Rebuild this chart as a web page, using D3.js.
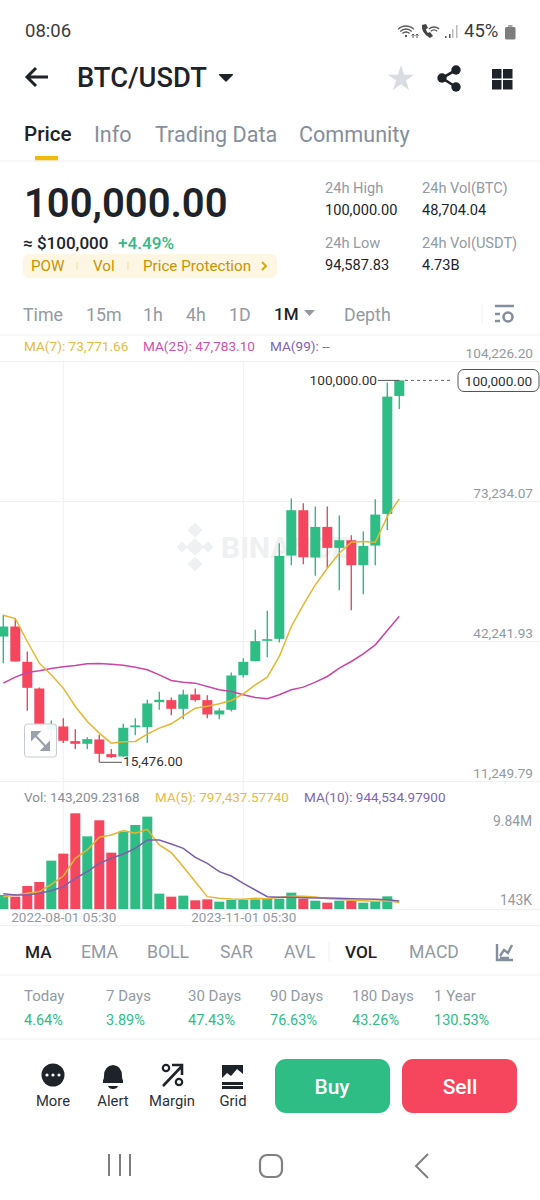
<!DOCTYPE html>
<html><head><meta charset="utf-8">
<script src="https://cdn.jsdelivr.net/npm/d3@7"></script>
<style>html,body{margin:0;padding:0;background:#fff}svg{display:block}text{font-family:Roboto,sans-serif}.domain{display:none}</style>
</head><body><svg id="c" width="540" height="1200" viewBox="0 0 540 1200"></svg>
<script>
// ---- chart data ----
const candleOpen=[43317,45530,37713,31814,22670,23408,20163,19573,20532,17287,16771,23260,23260,28791,29233,27316,30487,29233,26062,27095,34764,37861,42359,42801,61236,71265,60794,67578,62932,64628,59098,63448,70454,96558];
const candleClose=[45530,37787,31961,23408,23776,20237,19573,20605,17361,16624,23113,23629,28496,29307,27316,30487,29233,26062,26947,34690,37713,42285,42727,61162,71265,60868,67578,62932,64628,59098,63375,70306,96410,100000];
const candleHigh=[48110,47373,39999,32035,24735,25251,22818,21048,21564,18393,23998,25251,29307,31077,29822,31519,31814,30339,27463,35353,38524,44792,48995,63965,73846,72813,72076,72076,70085,65734,66545,73698,99507,100000];
const candleLow=[37418,37787,26874,23408,21195,19721,18393,18393,15476,16402,16624,21490,19721,27095,25915,25030,28938,25251,25030,26726,34247,37861,38746,41990,59098,59319,56738,58434,53567,49143,52682,59098,66914,93682];
const ma7=[48037,47299,42211,37418,34837,31888,27832,24514,21933,19721,20016,20089,21712,23039,23998,25767,27463,27906,28422,29159,30634,32625,34321,38893,45530,50323,54747,58434,61752,64186,64333,64186,69864,73772];
const ma25=[32994,34321,35353,35722,36238,36607,36902,37271,37344,37197,36976,36533,35943,34837,33584,33215,32994,32256,31519,31150,30413,29822,29528,30413,31519,32109,33215,34469,36312,37787,39483,41474,44645,47783];
const volume=[1562,1393,2475,2880,5043,5752,9841,7509,9131,5854,7982,8658,9503,1698,1393,1495,1022,1123,887,1056,1056,1123,1191,1191,1799,1191,988,785,988,988,785,887,1427,143.2];
const volMa5=[1393,1562,1731,1900,2644,3488,5279,6124,7408,7644,8084,7813,8219,6631,5854,4434,2914,1393,1224,1157,1123,1224,1191,1326,1427,1427,1360,1191,1123,1022,988,920,988,797];
const volMa10=[1698,1562,1562,1731,2002,2407,3252,3928,4772,5279,5718,6293,7138,7138,6732,6293,5381,4772,3928,3488,2745,2069,1393,1326,1326,1292,1258,1258,1224,1191,1157,1123,1089,945];
const priceTicks=[104226.20,73234.07,42241.93,11249.79];
const volTickLabels=[["9.84M",9841],["143K",143.2]];
const dateTicks=[5,20];
const dateLabels=["2022-08-01 05:30","2023-11-01 05:30"];
const maxMark=100000, minMark=15476, lastPrice=100000;
// ---- other texts ----
const topTabs=[["Price",24,"#1e2329"],["Info",94,"#848e9c"],["Trading Data",155,"#848e9c"],["Community",299,"#848e9c"]];
const ranges=[["Time",23],["15m",86],["1h",143],["4h",186],["1D",229],["1M",274],["Depth",344]];
const indicators=[["MA",25],["EMA",81],["BOLL",147],["SAR",220],["AVL",284],["VOL",345],["MACD",409]];
const perfLabels=["Today","7 Days","30 Days","90 Days","180 Days","1 Year"];
const perfValues=["4.64%","3.89%","47.43%","76.63%","43.26%","130.53%"];
const perfX=[24,106,188,270,352,434];
const tools=["More","Alert","Margin","Grid"];
const toolX=[53,113,172,233];

const GREEN="#2ebd85",RED="#f6465d",DARK="#1e2329",GRAY="#929aa5",LINE="#eef0f2";
const svg=d3.select("#c");
function T(s,x,y,size,fill,o={}){return svg.append("text").text(s).attr("x",x).attr("y",y).attr("font-size",size).attr("fill",fill)
 .attr("font-weight",o.w||400).attr("text-anchor",o.a||"start").attr("dominant-baseline","central");}
function H(y,c=LINE,x1=0,x2=540){svg.append("line").attr("x1",x1).attr("x2",x2).attr("y1",y).attr("y2",y).attr("stroke",c).attr("stroke-width",1);}

// status bar
T("08:06",25,31,18.5,"#3c3c3c");
T("45%",464,31,18.5,"#3c3c3c");
const st=svg.append("g").attr("fill","none").attr("stroke","#5a5a5a").attr("stroke-width",1.3);
[11,8,5].forEach(r=>st.append("path").attr("d",d3.arc()({innerRadius:r,outerRadius:r,startAngle:-0.8,endAngle:0.8})).attr("transform","translate(406,37)"));
[8,5].forEach(r=>st.append("path").attr("d",d3.arc()({innerRadius:r,outerRadius:r,startAngle:-0.7,endAngle:0.7})).attr("transform","translate(434,35)"));
svg.append("circle").attr("cx",406).attr("cy",36).attr("r",1.2).attr("fill","#5a5a5a");
svg.append("path").attr("d","M413 38v-4l-1.5 1.5M413 34l1.5 1.5M417 38v-4l-1.5 1.5M417 34l1.5 1.5").attr("fill","none").attr("stroke","#5a5a5a");
svg.append("path").attr("d","M422 25 q-1 8 8 13 l3 -2 l-3 -4 l-2 1 q-2 -2 -2 -4 l2 -1 l-2 -4z").attr("fill","#444");
[[445,2],[449,4],[452,9],[456,13]].forEach(([x,h],i)=>svg.append("rect").attr("x",x).attr("y",38-h).attr("width",1.5).attr("height",h).attr("fill",i<2?"#555":"#bbb"));
svg.append("rect").attr("x",505).attr("y",27).attr("width",10.5).attr("height",12.5).attr("rx",1.5).attr("fill","#7d7d7d");
svg.append("rect").attr("x",508).attr("y",25).attr("width",4.5).attr("height",2).attr("fill","#aaa");

// header
svg.append("path").attr("d","M48 77H27M36 68l-9 9 9 9").attr("fill","none").attr("stroke",DARK).attr("stroke-width",3);
T("BTC/USDT",77,78,27.3,DARK,{w:500});
svg.append("path").attr("d","M226 82l-7-7q-.5-1 .5-1h13q1 0 .5 1z").attr("fill",DARK);
svg.append("path").attr("d",d3.symbol(d3.symbolStar,210)()).attr("transform","translate(401,79)").attr("fill","#d9dce1");
const sh=svg.append("g").attr("fill",DARK);
[[456,70],[442,78],[456,87]].forEach(([x,y])=>sh.append("circle").attr("cx",x).attr("cy",y).attr("r",4.7));
svg.append("path").attr("d","M456 70L442 78L456 87").attr("fill","none").attr("stroke",DARK).attr("stroke-width",2.6);
[[492,69],[503,69],[492,80],[503,80]].forEach(([x,y])=>svg.append("rect").attr("x",x).attr("y",y).attr("width",9.5).attr("height",9.5).attr("fill",DARK));

// tabs
topTabs.forEach(d=>T(d[0],d[1],134,d[0]=="Price"?20.6:21.6,d[2],{w:d[0]=="Price"?500:400}));
svg.append("rect").attr("x",35).attr("y",156).attr("width",23).attr("height",4.5).attr("fill","#f0b90b");
H(161);

// price block
T("100,000.00",24,203,40,DARK,{w:600});
T("≈ $100,000",23,243,17,DARK,{w:500});
T("+4.49%",118,243,17.2,GREEN,{w:500});
svg.append("rect").attr("x",23).attr("y",254).attr("width",254).attr("height",24).attr("rx",6).attr("fill","#fdf6e3");
[["POW",31],["Vol",93],["Price Protection",143]].forEach(d=>T(d[0],d[1],266,15.2,"#c99400"));
[77,128].forEach(x=>svg.append("line").attr("x1",x).attr("x2",x).attr("y1",262).attr("y2",270).attr("stroke","#f0dfa8"));
svg.append("path").attr("d","M262 262l4 4-4 4").attr("fill","none").attr("stroke","#d9a400").attr("stroke-width",1.8);
[["24h High",325,188,GRAY],["100,000.00",325,210,DARK],["24h Vol(BTC)",422,188,GRAY],["48,704.04",422,210,DARK],
 ["24h Low",325,243,GRAY],["94,587.83",325,265,DARK],["24h Vol(USDT)",422,243,GRAY],["4.73B",422,265,DARK]]
 .forEach(d=>T(d[0],d[1],d[2],14.6,d[3]));

// range tabs
ranges.forEach(d=>T(d[0],d[1],314,d[0]=="1M"?17:17.8,d[0]=="1M"?DARK:GRAY,{w:d[0]=="1M"?500:400}));
svg.append("path").attr("d","M304 310h11l-5.5 6z").attr("fill",GRAY);
svg.append("line").attr("x1",482).attr("x2",482).attr("y1",303).attr("y2",324).attr("stroke",LINE);
svg.append("path").attr("d","M495 306h19M495 314h5M495 321h5").attr("stroke","#848e9c").attr("stroke-width",2.4).attr("fill","none");
svg.append("circle").attr("cx",508).attr("cy",317).attr("r",4.5).attr("fill","none").attr("stroke","#848e9c").attr("stroke-width",2.6);
H(335);

// scales
const x=d3.scaleLinear().domain([0,33]).range([3.3,399.3]);
const y=d3.scaleLinear().domain([priceTicks[3],priceTicks[0]]).range([781.4,361.3]);
const yv=d3.scaleLinear().domain([143.2,9841]).range([909,813.3]);
const bw=10;

// legends
T("MA(7): 73,771.66",24,346,13.6,"#e8ba41");
T("MA(25): 47,783.10",143,346,13.6,"#cf52ad");
T("MA(99): --",270,346,13.6,"#8064b8");

// grid
priceTicks.forEach(v=>H(Math.round(y(v))+.5));
dateTicks.forEach(i=>svg.append("line").attr("x1",x(i)).attr("x2",x(i)).attr("y1",361).attr("y2",925).attr("stroke",LINE));
H(909.5);H(925.5);

// watermark
const wm=svg.append("g").attr("fill","#eef0f2");
[[195,530,7.5],[182,547,5.5],[208,547,5.5],[195,564,7.5]].forEach(([a,b,r])=>wm.append("path").attr("d",`M${a} ${b-r}l${r} ${r}l${-r} ${r}l${-r} ${-r}z`));
wm.append("path").attr("d","M195 538l9 9-9 9-9-9z");
wm.append("text").text("BINANCE").attr("x",221).attr("y",547).attr("font-size",30).attr("font-weight",700).attr("dominant-baseline","central");

// axes text
const ax=svg.append("g").attr("transform","translate(533,0)").call(d3.axisLeft(y).tickValues(priceTicks).tickSize(0).tickFormat(d3.format(",.2f")));
ax.selectAll("text").attr("font-size",13.6).attr("fill",GRAY).attr("x",0).attr("dy",0).attr("y",-9).attr("dominant-baseline","central").style("font-family","Roboto");
const dx=svg.append("g").attr("transform","translate(0,909)").call(d3.axisBottom(x).tickValues(dateTicks).tickSize(0).tickFormat((d,i)=>dateLabels[i]));
dx.selectAll("text").attr("font-size",13.5).attr("fill",GRAY).attr("y",8).attr("dy",0).attr("dominant-baseline","central").style("font-family","Roboto");

// candles
const idx=d3.range(candleOpen.length);
const col=i=>candleClose[i]>=candleOpen[i]?GREEN:RED;
svg.append("g").selectAll("line").data(idx).join("line").attr("x1",x).attr("x2",x)
 .attr("y1",i=>y(candleHigh[i])).attr("y2",i=>y(candleLow[i])).attr("stroke",col).attr("stroke-width",1.4);
svg.append("g").selectAll("rect").data(idx).join("rect").attr("x",i=>x(i)-bw/2).attr("width",bw)
 .attr("y",i=>y(Math.max(candleOpen[i],candleClose[i])))
 .attr("height",i=>Math.max(1.5,Math.abs(y(candleOpen[i])-y(candleClose[i])))).attr("fill",col);
const ln=(sc,a)=>d3.line().x((d,i)=>x(i)).y(d=>sc(d))(a);
[[ma25,"#cb45a6",y],[ma7,"#e8b52e",y]].forEach(([a,c,s])=>svg.append("path").attr("d",ln(s,a)).attr("fill","none").attr("stroke",c).attr("stroke-width",1.5));

// markers
const my=y(maxMark),ly=y(minMark);
svg.append("path").attr("d",`M378 ${my}H${x(32)+12}`).attr("stroke","#555").attr("fill","none");
T("100,000.00",377,my-.5,13.6,"#333",{a:"end"});
svg.append("path").attr("d",`M${x(8)} ${y(candleLow[8])}V${ly}H122`).attr("stroke","#555").attr("fill","none");
T("15,476.00",123,ly-1,13.6,"#333");
svg.append("line").attr("x1",405).attr("x2",452).attr("y1",y(lastPrice)).attr("y2",y(lastPrice)).attr("stroke","#666").attr("stroke-dasharray","3 3");
svg.append("rect").attr("x",458).attr("y",369.5).attr("width",81).attr("height",22).attr("rx",6).attr("fill","#fff").attr("stroke","#555");
T("100,000.00",498.5,380.5,13.6,"#333",{a:"middle"});

// expand button
svg.append("rect").attr("x",24.5).attr("y",724).attr("width",32).attr("height",33).attr("rx",3).attr("fill","#fff").attr("fill-opacity",.92).attr("stroke","#c8ccd2");
svg.append("path").attr("d","M32 732l16 17M32 732h7l-7 7zM49 750h-7l7-7z").attr("stroke","#9aa1ab").attr("stroke-width",2).attr("fill","#9aa1ab");

// volume legend
T("Vol: 143,209.23168",24,797,13.5,"#848e9c");
T("MA(5): 797,437.57740",155,797,13.5,"#e8ba41");
T("MA(10): 944,534.97900",304,797,13.5,"#8064b8");
svg.append("g").selectAll("rect").data(idx).join("rect").attr("x",i=>x(i)-bw/2).attr("width",bw)
 .attr("y",i=>yv(volume[i])).attr("height",i=>yv(143.2)-yv(volume[i])).attr("fill",col);
[[volMa5,"#e8b52e"],[volMa10,"#7a5fb0"]].forEach(([a,c])=>svg.append("path").attr("d",ln(yv,a)).attr("fill","none").attr("stroke",c).attr("stroke-width",1.5));
volTickLabels.forEach(d=>T(d[0],532,d[1]>1000?820.5:900,13.8,GRAY,{a:"end"}));

// indicator tabs
indicators.forEach(d=>T(d[0],d[1],952,(d[0]=="MA"||d[0]=="VOL")?17.2:17.6,(d[0]=="MA"||d[0]=="VOL")?DARK:GRAY,{w:(d[0]=="MA"||d[0]=="VOL")?500:400}));
svg.append("line").attr("x1",329).attr("x2",329).attr("y1",942).attr("y2",961).attr("stroke",LINE);
svg.append("path").attr("d","M497 944v16h16M500 956l4-6 4 3 4-8M500 958h9").attr("fill","none").attr("stroke","#848e9c").attr("stroke-width",2.4);
H(975);
perfLabels.forEach((s,i)=>T(s,perfX[i],996,15,GRAY));
perfValues.forEach((s,i)=>T(s,perfX[i],1020,14.5,GREEN));
H(1039);

// toolbar
const tb=svg.append("g").attr("fill",DARK);
tb.append("circle").attr("cx",53).attr("cy",1075).attr("r",11.5);
[47,53,59].forEach(a=>svg.append("circle").attr("cx",a).attr("cy",1075).attr("r",1.6).attr("fill","#fff"));
tb.append("path").attr("d","M103 1083v-3q1-1 1-4 0-10 9-11 9 1 9 11 0 3 1 4v3zM108 1086h10q-1 3-5 3t-5-3z");
svg.append("path").attr("d","M163 1086l19-20M172 1065h10v10").attr("fill","none").attr("stroke",DARK).attr("stroke-width",2.6);
svg.append("circle").attr("cx",166).attr("cy",1068).attr("r",3.2).attr("fill","none").attr("stroke",DARK).attr("stroke-width",2.2);
svg.append("circle").attr("cx",179).attr("cy",1082).attr("r",3.2).attr("fill","none").attr("stroke",DARK).attr("stroke-width",2.2);
tb.append("path").attr("d","M222 1065h21v9l-6-5-6 7-4-3-5 5zM222 1082h21v3h-21zM222 1086h21v3h-21z");
tools.forEach((s,i)=>T(s,toolX[i],1101,14.8,"#2b3139",{a:"middle"}));
svg.append("rect").attr("x",275).attr("y",1059).attr("width",115).attr("height",54).attr("rx",11).attr("fill",GREEN);
svg.append("rect").attr("x",402).attr("y",1059).attr("width",115).attr("height",54).attr("rx",11).attr("fill",RED);
T("Buy",332,1087,21,"#fff",{a:"middle",w:500});
T("Sell",460,1087,21,"#fff",{a:"middle",w:500});

// android nav
svg.append("path").attr("d","M109 1154v22M120 1154v22M130 1154v22").attr("stroke","#7d7d7d").attr("stroke-width",2).attr("fill","none");
svg.append("rect").attr("x",260).attr("y",1155).attr("width",22).attr("height",22).attr("rx",7).attr("fill","none").attr("stroke","#808080").attr("stroke-width",2.2);
svg.append("path").attr("d","M428 1154l-12 12 12 12").attr("stroke","#808080").attr("stroke-width",2).attr("fill","none");
</script></body></html>
